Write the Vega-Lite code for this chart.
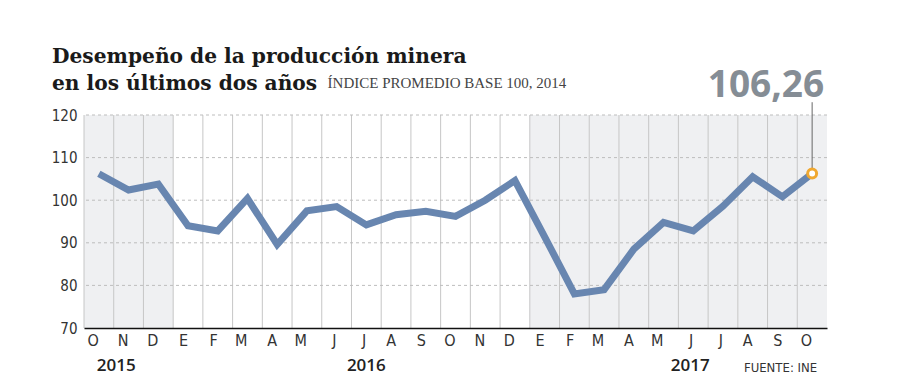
{
  "$schema": "https://vega.github.io/schema/vega-lite/v6.json",
  "width": 743,
  "height": 213,
  "autosize": {"type": "none"},
  "padding": {"left": 84, "top": 115, "right": 73, "bottom": 64},
  "background": "white",
  "config": {
    "view": {"stroke": null},
    "font": "Liberation Sans Narrow, DejaVu Sans Condensed, sans-serif"
  },
  "title": {
    "text": ["Desempeño de la producción minera", "en los últimos dos años"],
    "anchor": "start",
    "frame": "group",
    "dx": -32,
    "dy": 28,
    "offset": 0,
    "font": "DejaVu Serif",
    "fontSize": 20.2,
    "fontWeight": "bold",
    "color": "#1a1a1a",
    "lineHeight": 27
  },
  "datasets": {
    "prod": [
      {"mes": "2015-10", "anio": 2015, "valor": 106.2},
      {"mes": "2015-11", "anio": 2015, "valor": 102.4},
      {"mes": "2015-12", "anio": 2015, "valor": 103.8},
      {"mes": "2016-01", "anio": 2016, "valor": 94.0},
      {"mes": "2016-02", "anio": 2016, "valor": 92.8},
      {"mes": "2016-03", "anio": 2016, "valor": 100.4},
      {"mes": "2016-04", "anio": 2016, "valor": 89.6},
      {"mes": "2016-05", "anio": 2016, "valor": 97.5},
      {"mes": "2016-06", "anio": 2016, "valor": 98.5},
      {"mes": "2016-07", "anio": 2016, "valor": 94.2},
      {"mes": "2016-08", "anio": 2016, "valor": 96.6},
      {"mes": "2016-09", "anio": 2016, "valor": 97.4},
      {"mes": "2016-10", "anio": 2016, "valor": 96.2},
      {"mes": "2016-11", "anio": 2016, "valor": 100.0},
      {"mes": "2016-12", "anio": 2016, "valor": 104.6},
      {"mes": "2017-01", "anio": 2017, "valor": 91.4},
      {"mes": "2017-02", "anio": 2017, "valor": 78.0},
      {"mes": "2017-03", "anio": 2017, "valor": 79.0},
      {"mes": "2017-04", "anio": 2017, "valor": 88.5},
      {"mes": "2017-05", "anio": 2017, "valor": 94.8},
      {"mes": "2017-06", "anio": 2017, "valor": 92.8},
      {"mes": "2017-07", "anio": 2017, "valor": 98.6},
      {"mes": "2017-08", "anio": 2017, "valor": 105.5},
      {"mes": "2017-09", "anio": 2017, "valor": 100.8},
      {"mes": "2017-10", "anio": 2017, "valor": 106.26}
    ],
    "grid": [{"v": 80}, {"v": 90}, {"v": 100}, {"v": 110}, {"v": 120}]
  },
  "layer": [
    {
      "data": {"name": "prod"},
      "transform": [{"filter": "datum.anio != 2016"}],
      "mark": {"type": "rect", "fill": "#eff0f2"},
      "encoding": {
        "x": {"field": "mes", "type": "ordinal", "scale": {"type": "band", "paddingInner": 0, "paddingOuter": 0}},
        "y": {"datum": 120, "type": "quantitative", "scale": {"domain": [70, 120], "nice": false, "zero": false}},
        "y2": {"datum": 70}
      }
    },
    {
      "data": {"name": "prod"},
      "mark": {"type": "rule", "color": "#c6c6c6", "strokeWidth": 1},
      "encoding": {
        "x": {"field": "mes", "type": "ordinal", "bandPosition": 0},
        "y": {"datum": 120, "type": "quantitative"},
        "y2": {"datum": 70}
      }
    },
    {
      "data": {"name": "grid"},
      "mark": {"type": "rule", "color": "#bdbdbd", "strokeWidth": 1, "strokeDash": [3, 3]},
      "encoding": {
        "y": {"field": "v", "type": "quantitative"}
      }
    },
    {
      "data": {"name": "prod"},
      "mark": {"type": "line", "color": "#6886b0", "strokeWidth": 7, "strokeJoin": "miter"},
      "encoding": {
        "x": {
          "field": "mes", "type": "ordinal",
          "axis": {
            "title": null,
            "labelExpr": "['E','F','M','A','M','J','J','A','S','O','N','D'][toNumber(slice(datum.value, 5)) - 1]",
            "labelAngle": 0,
            "ticks": false,
            "grid": false,
            "domainColor": "#111111",
            "domainWidth": 1.5,
            "labelFontSize": 16,
            "labelColor": "#333333",
            "labelPadding": 12
          }
        },
        "y": {
          "field": "valor", "type": "quantitative",
          "axis": {
            "title": null,
            "values": [70, 80, 90, 100, 110, 120],
            "domain": false,
            "ticks": false,
            "grid": false,
            "labelFontSize": 15,
            "labelColor": "#333333",
            "labelPadding": 7
          }
        }
      }
    },
    {
      "data": {"values": [{}]},
      "mark": {"type": "rule", "color": "#666666", "strokeWidth": 1},
      "encoding": {
        "x": {"datum": "2017-10", "type": "ordinal"},
        "y": {"datum": 106.26, "type": "quantitative"},
        "y2": {"datum": 123}
      }
    },
    {
      "data": {"name": "prod"},
      "transform": [{"filter": "datum.mes == '2017-10'"}],
      "mark": {"type": "point", "shape": "circle", "filled": true, "fill": "white", "stroke": "#f0a830", "strokeWidth": 3, "size": 80, "opacity": 1},
      "encoding": {
        "x": {"field": "mes", "type": "ordinal"},
        "y": {"field": "valor", "type": "quantitative"}
      }
    },
    {
      "data": {"values": [{}]},
      "mark": {"type": "text", "text": "106,26", "align": "right", "baseline": "alphabetic", "dx": 12, "font": "Open Sans", "fontSize": 37, "fontWeight": "bold", "fill": "#858d95"},
      "encoding": {
        "x": {"datum": "2017-10", "type": "ordinal"},
        "y": {"datum": 124.3, "type": "quantitative"}
      }
    },
    {
      "data": {"values": [{}]},
      "mark": {"type": "text", "text": "ÍNDICE PROMEDIO BASE 100, 2014", "align": "left", "baseline": "alphabetic", "dx": -9, "font": "Liberation Serif", "fontSize": 15, "fill": "#444444"},
      "encoding": {
        "x": {"datum": "2016-06", "type": "ordinal"},
        "y": {"datum": 126.4, "type": "quantitative"}
      }
    },
    {
      "data": {"values": [{}]},
      "mark": {"type": "text", "text": "2015", "align": "left", "baseline": "middle", "dx": -2, "font": "Open Sans", "fontSize": 17, "fontWeight": 600, "fill": "#222222"},
      "encoding": {
        "x": {"datum": "2015-10", "type": "ordinal"},
        "y": {"datum": 61, "type": "quantitative"}
      }
    },
    {
      "data": {"values": [{}]},
      "mark": {"type": "text", "text": "2016", "align": "center", "baseline": "middle", "font": "Open Sans", "fontSize": 17, "fontWeight": 600, "fill": "#222222"},
      "encoding": {
        "x": {"datum": "2016-07", "type": "ordinal"},
        "y": {"datum": 61, "type": "quantitative"}
      }
    },
    {
      "data": {"values": [{}]},
      "mark": {"type": "text", "text": "2017", "align": "center", "baseline": "middle", "dx": -3, "font": "Open Sans", "fontSize": 17, "fontWeight": 600, "fill": "#222222"},
      "encoding": {
        "x": {"datum": "2017-06", "type": "ordinal"},
        "y": {"datum": 61, "type": "quantitative"}
      }
    },
    {
      "data": {"values": [{}]},
      "mark": {"type": "text", "text": "FUENTE: INE", "align": "right", "baseline": "middle", "dx": 5, "fontSize": 13, "fill": "#333333"},
      "encoding": {
        "x": {"datum": "2017-10", "type": "ordinal"},
        "y": {"datum": 60.6, "type": "quantitative"}
      }
    }
  ]
}
